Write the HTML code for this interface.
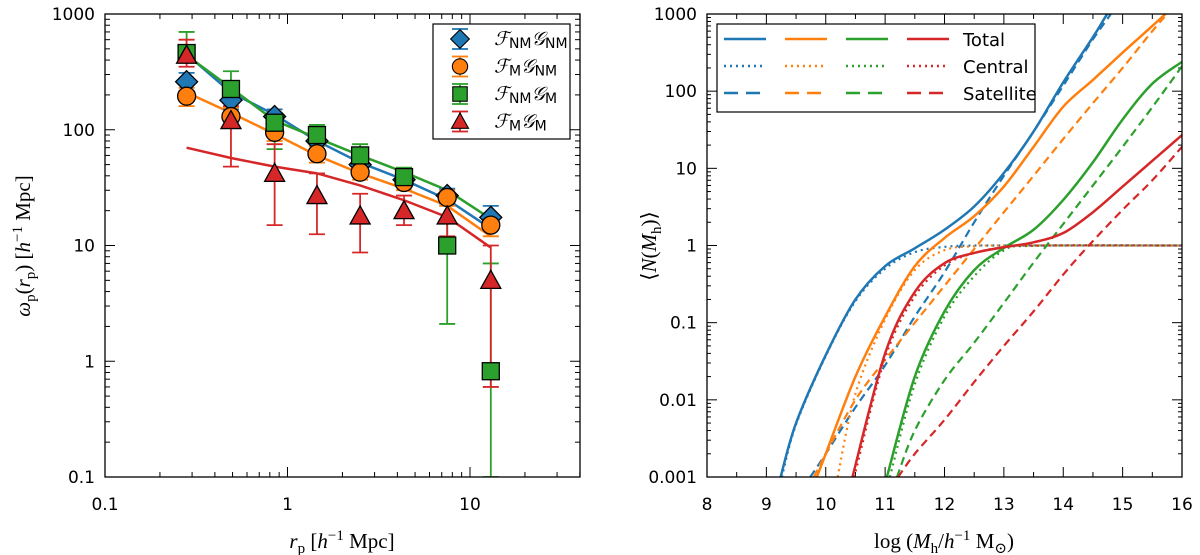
<!DOCTYPE html>
<html><head><meta charset="utf-8"><style>
html,body{margin:0;padding:0;background:#fff}
svg{display:block;font-family:"DejaVu Sans","Liberation Sans",sans-serif}
.tk{font-size:17px;fill:#000}
.lab{font-family:"Liberation Serif","DejaVu Serif",serif;font-size:21px}
</style></head><body>
<svg id="fig" width="1200" height="555" viewBox="0 0 1200 555"></svg>
<script>
// ---------- Left panel data ----------
const rp = [0.28, 0.49, 0.85, 1.45, 2.5, 4.35, 7.5, 13];
const blueVals = [260, 180, 130, 80, 50, 37, 27, 17.5];
const blueLo = [215, 150, 110, 68, 43, 32, 23, 14];
const blueHi = [310, 215, 150, 92, 58, 43, 31, 22];
const orangeVals = [195, 130, 95, 62, 43, 35, 26, 15];
const orangeLo = [160, 110, 80, 52, 37, 30, 22, 12];
const orangeHi = [230, 155, 110, 72, 50, 40, 30, 18];
const greenVals = [460, 225, 115, 90, 60, 39, 10, 0.82];
const greenLo = [380, 185, 68, 75, 50, 33, 2.1, 0.1];
const greenHi = [700, 320, 140, 110, 75, 47, 28, 7];
const redVals = [440, 120, 42, 27, 18, 20, 18, 5];
const redLo = [350, 48, 15, 12.5, 8.7, 15, 12, 0.6];
const redHi = [600, 160, 75, 42, 28, 27, 24, 10];
const blueModel = [450, 210, 135, 80, 52, 37, 25, 14];
const orangeModel = [210, 140, 92, 60, 42, 31, 22, 12];
const greenModel = [440, 230, 120, 85, 60, 43, 30, 17];
const redModel = [70, 57, 48, 42, 33, 24.6, 17.6, 9.6];
const leftYTicks = [1000, 100, 10, 1, 0.1];
const leftYTickLabels = ["1000", "100", "10", "1", "0.1"];
const leftXTicks = [0.1, 1, 10];
const leftXTickLabels = ["0.1", "1", "10"];
// ---------- Right panel data ----------
const blueTotM = [9.24, 9.5, 10, 10.5, 11, 11.5, 12, 12.5, 13, 13.5, 14, 14.5, 14.74, 15];
const blueTotN = [0.001, 0.005, 0.038, 0.2, 0.54, 0.92, 1.6, 3.2, 8.7, 30, 130, 500, 1000, 2000];
const blueCenM = [9.26, 9.5, 10, 10.5, 11, 11.5, 12, 12.5, 13, 16];
const blueCenN = [0.001, 0.0048, 0.037, 0.19, 0.5, 0.82, 0.96, 1, 1, 1];
const blueSatM = [9.74, 10, 10.5, 11, 11.5, 12, 12.5, 13, 13.5, 14, 14.5, 14.8, 15];
const blueSatN = [0.001, 0.002, 0.008, 0.028, 0.12, 0.45, 2, 8, 30, 118, 470, 1000, 1800];
const orangeTotM = [9.85, 10, 10.5, 11, 11.5, 12, 12.5, 13, 13.5, 14, 14.5, 15, 15.5, 15.72, 16];
const orangeTotN = [0.001, 0.002, 0.02, 0.12, 0.54, 1.25, 2.4, 5.8, 19, 63, 140, 316, 700, 1000, 1600];
const orangeCenM = [10.2, 10.5, 11, 11.5, 12, 12.5, 13, 16];
const orangeCenN = [0.001, 0.012, 0.11, 0.48, 0.87, 0.98, 1, 1];
const orangeSatM = [9.8, 10, 10.5, 11, 11.5, 12, 12.5, 13, 13.5, 14, 14.5, 15, 15.5, 15.75, 16];
const orangeSatN = [0.001, 0.002, 0.01, 0.033, 0.1, 0.3, 0.9, 2.7, 8, 24, 70, 200, 600, 1000, 1600];
const greenTotM = [11.03, 11.5, 12, 12.5, 13, 13.5, 14, 14.5, 15, 15.5, 16];
const greenTotN = [0.001, 0.02, 0.14, 0.48, 0.93, 1.6, 3.9, 12, 43, 125, 240];
const greenCenM = [11.08, 11.5, 12, 12.5, 13, 13.5, 16];
const greenCenN = [0.001, 0.016, 0.12, 0.4, 0.86, 0.99, 1];
const greenSatM = [11.2, 11.5, 12, 12.5, 13, 13.5, 14, 14.5, 15, 15.5, 16];
const greenSatN = [0.001, 0.004, 0.018, 0.055, 0.18, 0.6, 1.9, 6, 19, 62, 210];
const redTotM = [10.45, 11, 11.5, 12, 12.5, 13, 13.5, 14, 14.5, 15, 15.5, 16];
const redTotN = [0.001, 0.04, 0.25, 0.59, 0.8, 0.95, 1.1, 1.45, 2.7, 5.8, 12.5, 27];
const redCenM = [10.48, 11, 11.5, 12, 12.5, 13, 13.5, 16];
const redCenN = [0.001, 0.035, 0.22, 0.55, 0.8, 0.95, 1, 1];
const redSatM = [11.22, 11.5, 12, 12.5, 13, 13.5, 14, 14.43, 15, 15.5, 16];
const redSatN = [0.001, 0.002, 0.0055, 0.017, 0.05, 0.14, 0.42, 1, 2.9, 7, 19];
const rightYTicks = [1000, 100, 10, 1, 0.1, 0.01, 0.001];
const rightYTickLabels = ["1000", "100", "10", "1", "0.1", "0.01", "0.001"];
const rightXTicks = [8, 9, 10, 11, 12, 13, 14, 15, 16];
const rightXTickLabels = ["8", "9", "10", "11", "12", "13", "14", "15", "16"];

const C = {blue:"#1f77b4", orange:"#ff7f0e", green:"#2ca02c", red:"#d62728"};
const NS = "http://www.w3.org/2000/svg";
const svg = document.getElementById("fig");
function mk(tag, attrs, parent, text){
  const e = document.createElementNS(NS, tag);
  for (const k in attrs) e.setAttribute(k, attrs[k]);
  if (text !== undefined) e.textContent = text;
  (parent || svg).appendChild(e);
  return e;
}
const L = {x0:105, x1:580, y0:14, y1:477};
const lx = v => L.x0 + (Math.log10(v) + 1) * 182.5;
const ly = v => L.y0 + (3 - Math.log10(v)) * 115.75;
const R = {x0:707, x1:1182, y0:14, y1:477};
const rx = m => R.x0 + (m - 8) * (R.x1 - R.x0) / 8;
const ry = v => R.y0 + (3 - Math.log10(v)) * (R.y1 - R.y0) / 6;

const defs = mk("defs", {});
const cpL = mk("clipPath", {id:"clipL"}, defs); mk("rect", {x:L.x0, y:L.y0, width:L.x1-L.x0, height:L.y1-L.y0}, cpL);
const cpR = mk("clipPath", {id:"clipR"}, defs); mk("rect", {x:R.x0, y:R.y0, width:R.x1-R.x0, height:R.y1-R.y0}, cpR);

// ---- Left ticks ----
const gLt = mk("g", {stroke:"#000", "stroke-width":1});


for (let d = -1; d <= 1; d++) for (let k = 1; k <= 9; k++) {
  const v = k * Math.pow(10, d); const x = lx(v); if (x > L.x1) continue;
  const len = k === 1 ? 10 : 5;
  mk("line", {x1:x, y1:L.y1, x2:x, y2:L.y1-len}, gLt); mk("line", {x1:x, y1:L.y0, x2:x, y2:L.y0+len}, gLt);
}
for (let d = -1; d <= 2; d++) for (let k = 1; k <= 9; k++) {
  const v = k * Math.pow(10, d); const y = ly(v); if (y < L.y0 - 0.5) continue;
  const len = k === 1 ? 10 : 5;
  mk("line", {x1:L.x0, y1:y, x2:L.x0+len, y2:y}, gLt); mk("line", {x1:L.x1, y1:y, x2:L.x1-len, y2:y}, gLt);
}
leftYTicks.forEach((v, i) => { const t = mk("text", {x:L.x0-10, y:ly(v)+6, "text-anchor":"end", class:"tk"}, svg, leftYTickLabels[i]);   });
leftXTicks.forEach((v, i) => { const t = mk("text", {x:lx(v), y:L.y1+33, "text-anchor":"middle", class:"tk"}, svg, leftXTickLabels[i]);   });

// ---- Left series ----
function marker(g, type, x, y, color){
  let e;
  if (type === "D") e = mk("polygon", {points:`${x},${y-11} ${x+11},${y} ${x},${y+11} ${x-11},${y}`}, g);
  else if (type === "o") e = mk("circle", {cx:x, cy:y, r:9}, g);
  else if (type === "s") e = mk("rect", {x:x-8.5, y:y-8.5, width:17, height:17}, g);
  else e = mk("polygon", {points:`${x},${y-10} ${x+10},${y+8} ${x-10},${y+8}`}, g);
  e.setAttribute("fill", color); e.setAttribute("stroke", "#000"); e.setAttribute("stroke-width", 1.3);
  return e;
}
const leftSeries = [
  {name:"blue", vals:blueVals, lo:blueLo, hi:blueHi, model:blueModel, m:"D"},
  {name:"orange", vals:orangeVals, lo:orangeLo, hi:orangeHi, model:orangeModel, m:"o"},
  {name:"green", vals:greenVals, lo:greenLo, hi:greenHi, model:greenModel, m:"s"},
  {name:"red", vals:redVals, lo:redLo, hi:redHi, model:redModel, m:"^"},
];
const gL = mk("g", {"clip-path":"url(#clipL)"});
leftSeries.forEach(s => {
  const pl = mk("polyline", {points: rp.map((r,i)=>`${lx(r)},${ly(s.model[i])}`).join(" "), fill:"none", stroke:C[s.name], "stroke-width":2.5}, gL);
  
  
});
leftSeries.forEach(s => {
  const g = mk("g", {stroke:C[s.name], "stroke-width":1.8}, gL);
  
  
  rp.forEach((r,i) => {
    const x = lx(r), yl = ly(s.lo[i]), yh = ly(s.hi[i]);
    mk("line", {x1:x, y1:yl, x2:x, y2:yh}, g);
    mk("line", {x1:x-8, y1:yl, x2:x+8, y2:yl}, g);
    mk("line", {x1:x-8, y1:yh, x2:x+8, y2:yh}, g);
  });
});
leftSeries.forEach(s => {
  const g = mk("g", {}, gL);
  
  
  rp.forEach((r,i) => { const e = marker(g, s.m, lx(r), ly(s.vals[i]), C[s.name]);   });
});
const frL = mk("rect", {x:L.x0, y:L.y0, width:L.x1-L.x0, height:L.y1-L.y0, fill:"none", stroke:"#000", "stroke-width":1.3});
 

// Left legend
const lg = mk("g", {});
 
mk("rect", {x:433, y:24, width:137, height:115, fill:"#fff", stroke:"#000", "stroke-width":1.2}, lg);
const legLabels = [["NM","NM"],["M","NM"],["NM","M"],["M","M"]];
leftSeries.forEach((s, i) => {
  const y = 39 + i * 27.5, x = 460;
  const g = mk("g", {}, lg);
   
  mk("line", {x1:x, y1:y-10, x2:x, y2:y+10, stroke:C[s.name], "stroke-width":1.8}, g);
  mk("line", {x1:x-8, y1:y-10, x2:x+8, y2:y-10, stroke:C[s.name], "stroke-width":1.8}, g);
  mk("line", {x1:x-8, y1:y+10, x2:x+8, y2:y+10, stroke:C[s.name], "stroke-width":1.8}, g);
  const sc = {D:0.85, o:0.85, s:0.85, "^":0.85}[s.m];
  const mg = mk("g", {transform:`translate(${x},${y}) scale(${sc})`}, g);
  marker(mg, s.m, 0, 0, C[s.name]);
  const t = mk("text", {x:494, y:y+6, "font-size":19, "font-family":"'Liberation Serif',serif", "font-style":"italic"}, g);
  mk("tspan", {}, t, "\u2131"); mk("tspan", {"font-size":14, dy:3, "font-style":"normal", "font-family":"'DejaVu Sans',sans-serif"}, t, legLabels[i][0]);
  mk("tspan", {dy:-3}, t, "\uD835\uDCA2"); mk("tspan", {"font-size":14, dy:3, "font-style":"normal", "font-family":"'DejaVu Sans',sans-serif"}, t, legLabels[i][1]);
});

// Left axis titles
const xtL = mk("text", {x:342, y:548, "text-anchor":"middle", class:"lab"});
 
mk("tspan", {"font-style":"italic"}, xtL, "r"); mk("tspan", {"font-size":15, dy:5}, xtL, "p"); mk("tspan", {dy:-5}, xtL, "  [");
mk("tspan", {"font-style":"italic"}, xtL, "h"); mk("tspan", {"font-size":15, dy:-8}, xtL, "\u22121"); mk("tspan", {dy:8}, xtL, " Mpc]");
const ytL = mk("text", {x:0, y:0, "text-anchor":"middle", class:"lab", transform:"translate(30,246) rotate(-90)"});
 
mk("tspan", {"font-style":"italic"}, ytL, "\u03C9"); mk("tspan", {"font-size":15, dy:5}, ytL, "p"); mk("tspan", {dy:-5}, ytL, "(");
mk("tspan", {"font-style":"italic"}, ytL, "r"); mk("tspan", {"font-size":15, dy:5}, ytL, "p"); mk("tspan", {dy:-5}, ytL, ")  [");
mk("tspan", {"font-style":"italic"}, ytL, "h"); mk("tspan", {"font-size":15, dy:-8}, ytL, "\u22121"); mk("tspan", {dy:8}, ytL, " Mpc]");

// ---- Right ticks ----
const gRt = mk("g", {stroke:"#000", "stroke-width":1});
 
for (let m = 8; m <= 16; m += 0.5) {
  const x = rx(m), len = (m % 1 === 0) ? 10 : 5;
  mk("line", {x1:x, y1:R.y1, x2:x, y2:R.y1-len}, gRt); mk("line", {x1:x, y1:R.y0, x2:x, y2:R.y0+len}, gRt);
}
for (let d = -3; d <= 2; d++) for (let k = 1; k <= 9; k++) {
  const v = k * Math.pow(10, d), y = ry(v), len = k === 1 ? 10 : 4;
  mk("line", {x1:R.x0, y1:y, x2:R.x0+len, y2:y}, gRt); mk("line", {x1:R.x1, y1:y, x2:R.x1-len, y2:y}, gRt);
}
rightYTicks.forEach((v, i) => { const t = mk("text", {x:R.x0-10, y:ry(v)+6, "text-anchor":"end", class:"tk"}, svg, rightYTickLabels[i]);   });
rightXTicks.forEach((v, i) => { const t = mk("text", {x:rx(v), y:R.y1+33, "text-anchor":"middle", class:"tk"}, svg, rightXTickLabels[i]);   });

// ---- Right curves ----
const curves = [
  ["blue","tot",blueTotM,blueTotN],["blue","cen",blueCenM,blueCenN],["blue","sat",blueSatM,blueSatN],
  ["orange","tot",orangeTotM,orangeTotN],["orange","cen",orangeCenM,orangeCenN],["orange","sat",orangeSatM,orangeSatN],
  ["green","tot",greenTotM,greenTotN],["green","cen",greenCenM,greenCenN],["green","sat",greenSatM,greenSatN],
  ["red","tot",redTotM,redTotN],["red","cen",redCenM,redCenN],["red","sat",redSatM,redSatN],
];
const dash = {tot:"none", cen:"2,4", sat:"8,5"};
function smoothPath(pts){
  let d = `M${pts[0][0]},${pts[0][1]}`;
  for (let i = 0; i < pts.length - 1; i++) {
    const p0 = pts[Math.max(0,i-1)], p1 = pts[i], p2 = pts[i+1], p3 = pts[Math.min(pts.length-1,i+2)];
    const c1 = [p1[0]+(p2[0]-p0[0])/6, p1[1]+(p2[1]-p0[1])/6];
    const c2 = [p2[0]-(p3[0]-p1[0])/6, p2[1]-(p3[1]-p1[1])/6];
    d += ` C${c1[0]},${c1[1]} ${c2[0]},${c2[1]} ${p2[0]},${p2[1]}`;
  }
  return d;
}
const gR = mk("g", {"clip-path":"url(#clipR)"});
curves.forEach(c => {
  const pts = c[2].map((m,i) => [rx(m), ry(c[3][i])]);
  const p = mk("path", {d:smoothPath(pts), fill:"none", stroke:C[c[0]], "stroke-width": c[1]==="tot"?2.5:2.2, "stroke-dasharray":dash[c[1]]}, gR);
  
  
});
const frR = mk("rect", {x:R.x0, y:R.y0, width:R.x1-R.x0, height:R.y1-R.y0, fill:"none", stroke:"#000", "stroke-width":1.3});
 

// Right legend
const rg = mk("g", {});
 
mk("rect", {x:717, y:24, width:318, height:88, fill:"#fff", stroke:"#000", "stroke-width":1.2}, rg);
const rows = [["tot","Total",39],["cen","Central",66],["sat","Satellite",93]];
["blue","orange","green","red"].forEach((col, j) => {
  rows.forEach(r => {
    const x = 724 + j * 61;
    const l = mk("line", {x1:x, y1:r[2], x2:x+42, y2:r[2], stroke:C[col], "stroke-width":2.5, "stroke-dasharray":r[0]==="sat"?"14,8":(r[0]==="cen"?"2,4":"none")}, rg);
     
  });
});
rows.forEach(r => { const t = mk("text", {x:963, y:r[2]+7, "font-size":18}, rg, r[1]);   });

// Right axis titles
const xtR = mk("text", {x:944, y:548, "text-anchor":"middle", class:"lab"});
 
mk("tspan", {}, xtR, "log (");
mk("tspan", {"font-style":"italic"}, xtR, "M"); mk("tspan", {"font-size":15, dy:5}, xtR, "h"); mk("tspan", {dy:-5}, xtR, "/");
mk("tspan", {"font-style":"italic"}, xtR, "h"); mk("tspan", {"font-size":15, dy:-8}, xtR, "\u22121"); mk("tspan", {dy:8}, xtR, " M");
mk("tspan", {"font-size":15, dy:5}, xtR, "\u2299"); mk("tspan", {dy:-5}, xtR, ")");
const ytR = mk("text", {x:0, y:0, "text-anchor":"middle", class:"lab", transform:"translate(656,246) rotate(-90)"});
 
mk("tspan", {}, ytR, "\u27E8"); mk("tspan", {"font-style":"italic"}, ytR, "N"); mk("tspan", {}, ytR, "(");
mk("tspan", {"font-style":"italic"}, ytR, "M"); mk("tspan", {"font-size":15, dy:5}, ytR, "h"); mk("tspan", {dy:-5}, ytR, ")\u27E9");
</script>
</body></html>
